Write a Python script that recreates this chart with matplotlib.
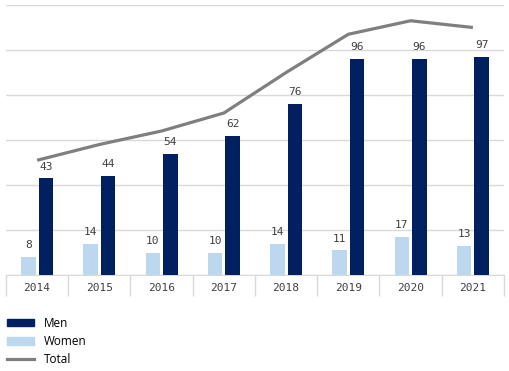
import numpy as np
import matplotlib.pyplot as plt
from matplotlib.patches import Patch
from matplotlib.lines import Line2D

# Data
years = ['2014', '2015', '2016', '2017', '2018', '2019', '2020', '2021']
men = [43, 44, 54, 62, 76, 96, 96, 97]
women = [8, 14, 10, 10, 14, 11, 17, 13]
total = [m + w for m, w in zip(men, women)]

men_color = '#002060'
women_color = '#bdd7ee'
total_color = '#7f7f7f'
label_color = '#404040'

fig = plt.figure(figsize=(5.1, 3.71), dpi=100)
ax = fig.add_axes([6 / 510, 1 - 275 / 371, 498 / 510, 270 / 371])

x = np.arange(len(years))
w = 0.235
off = 0.14
ax.bar(x - off, women, width=w, color=women_color, zorder=3)
ax.bar(x + off, men, width=w, color=men_color, zorder=3)
ax.plot(x, total, color=total_color, linewidth=2.3, zorder=4, solid_capstyle='butt')

# Data labels
for i in range(len(years)):
    ax.text(x[i] - off, women[i] + 3, str(women[i]), ha='center', va='bottom',
            fontsize=8, family='DejaVu Sans Mono', color=label_color)
    ax.text(x[i] + off, men[i] + 3, str(men[i]), ha='center', va='bottom',
            fontsize=8, family='DejaVu Sans Mono', color=label_color)

ax.set_xlim(-0.5, len(years) - 0.5)
ax.set_ylim(0, 120)
ax.set_yticks(np.arange(0, 121, 20))
ax.set_yticklabels([])
ax.tick_params(axis='y', length=0)
ax.grid(axis='y', color='#d9d9d9', linewidth=1, zorder=0)

ax.set_xticks(x)
ax.set_xticklabels(years, fontsize=8, family='DejaVu Sans Mono', color=label_color)
ax.tick_params(axis='x', which='major', length=0, pad=6)
ax.set_xticks(np.arange(-0.5, len(years), 1), minor=True)
ax.tick_params(axis='x', which='minor', length=15, color='#d9d9d9', width=1)

for s in ['top', 'right', 'left']:
    ax.spines[s].set_visible(False)
ax.spines['bottom'].set_color('#d9d9d9')

handles = [Patch(color=men_color), Patch(color=women_color),
           Line2D([], [], color=total_color, linewidth=2.3)]
fig.legend(handles, ['Men', 'Women', 'Total'], loc='upper left',
           bbox_to_anchor=(-0.008, 0.175), frameon=False,
           handlelength=2.3, handleheight=0.6, labelspacing=0.45,
           handletextpad=0.9, prop={'family': 'Open Sans', 'size': 8.5})

fig.savefig('out.png', dpi=100)
